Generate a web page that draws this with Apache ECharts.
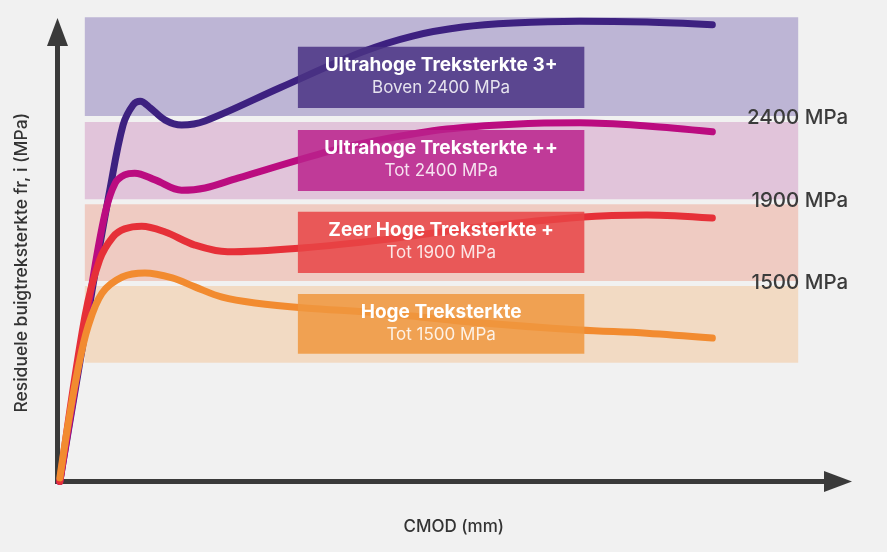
<!DOCTYPE html>
<html>
<head>
<meta charset="utf-8">
<script src="https://cdn.jsdelivr.net/npm/echarts@6/dist/echarts.min.js"></script>
<style>
html,body{margin:0;padding:0;background:#f1f1f1;}
#chart{width:887px;height:552px;}
</style>
</head>
<body>
<div id="chart"></div>
<script>
// ---- data (abstract chart units: x = CMOD, y = residual flexural strength) ----
const classNames = ['Ultrahoge Treksterkte 3+', 'Ultrahoge Treksterkte ++', 'Zeer Hoge Treksterkte +', 'Hoge Treksterkte'];
const classSubtitles = ['Boven 2400 MPa', 'Tot 2400 MPa', 'Tot 1900 MPa', 'Tot 1500 MPa'];
const thresholdLabels = ['2400 MPa', '1900 MPa', '1500 MPa'];
const thresholdLevels = [81.0, 62.4, 44.2];
// band ranges [low, high] per class
const bandRanges = [[81.3, 103.3], [62.8, 80.0], [44.6, 61.7], [26.4, 43.5]];
const bandX = [3.5, 94.9];

const curvePurple = [[0.3,0],[4.4,42.2],[6.7,64.8],[8.4,79.3],[9.7,83.8],[10.6,84.6],[11.9,83.1],[13.8,80.4],[15.9,79.3],[18.9,80.2],[28.5,87.6],[39.1,95.6],[45.5,99.1],[51.9,101.1],[58.4,102.0],[66.9,102.4],[75.5,102.2],[83.9,101.6]];
const curveMagenta = [[0.3,0],[4.4,43.7],[6.1,59.7],[7.4,66.4],[8.6,68.2],[9.9,68.6],[12.5,67.1],[15.9,64.8],[18.9,65.3],[23.1,67.5],[34.9,73.5],[41.3,76.0],[49.9,78.4],[58.4,79.5],[66.9,79.8],[75.5,79.1],[83.9,77.8]];
const curveRed = [[0.3,0],[3.5,36.6],[5.4,49.3],[7.1,54.4],[8.6,56.2],[10.8,56.8],[13.8,55.5],[17.6,52.6],[21.8,51.1],[31.7,52.0],[41.3,53.7],[54.1,56.6],[66.9,58.8],[75.5,59.3],[83.9,58.6]];
const curveOrange = [[0.3,0.8],[1.3,12.1],[2.6,24.8],[3.9,34.4],[5.7,41.9],[8.3,45.5],[11.2,46.4],[14.7,45.3],[17.6,43.3],[21.1,41.0],[25.3,39.7],[31.7,38.6],[41.3,37.5],[54.1,35.3],[66.9,33.7],[75.5,33.0],[83.9,31.9]];

// ---- styling ----
const FONT = 'Inter, "Noto Sans", "Open Sans", sans-serif';
const bandColors = ['#bdb5d5', '#e1c4da', '#efcbc2', '#f2dac3'];
const boxColors = ['#4a3384', '#ba228c', '#e74445', '#f0963e'];
const lineColors = ['#3d2180', '#bb0c80', '#e63038', '#f28b30'];
const boxRanges = [[83.1, 96.7], [64.6, 78.2], [46.4, 60.0], [28.4, 41.7]];
const boxX = [30.8, 67.5];

const chart = echarts.init(document.getElementById('chart'), null, {renderer: 'canvas'});

const bandData = bandRanges.map((r, i) => [bandX[0], bandX[1], r[0], r[1], i]);
const boxData = boxRanges.map((r, i) => [boxX[0], boxX[1], r[0], r[1], i]);
const labelData = thresholdLevels.map((v, i) => [101.3, v, i]);

function lineSeries(data, color, z) {
  return {
    type: 'line', data: data, smooth: 0.35,
    showSymbol: false, symbol: 'none', clip: false, silent: true, z: z,
    lineStyle: {color: color, width: 7, cap: 'round', join: 'round'}
  };
}

const option = {
  animation: false,
  backgroundColor: '#f1f1f1',
  grid: {left: 57.5, right: 49, top: 32, bottom: 70.5},
  xAxis: {
    type: 'value', min: 0, max: 100,
    name: 'CMOD (mm)', nameLocation: 'middle', nameGap: 37,
    nameTextStyle: {fontFamily: FONT, fontSize: 17, fontWeight: 500, color: '#333', padding: [0, 0, 0, 12]},
    axisLine: {show: true, symbol: ['none', 'triangle'], symbolSize: [21, 28],
      lineStyle: {color: '#3a3a3a', width: 5, cap: 'square'}},
    axisTick: {show: false}, axisLabel: {show: false}, splitLine: {show: false}
  },
  yAxis: {
    type: 'value', min: 0, max: 100,
    name: 'Residuele buigtreksterkte fr, i (MPa)', nameLocation: 'middle', nameGap: 27,
    nameTextStyle: {fontFamily: FONT, fontSize: 17.5, fontWeight: 500, color: '#333', padding: [0, 12, 0, 0]},
    axisLine: {show: true, symbol: ['none', 'triangle'], symbolSize: [21, 28],
      lineStyle: {color: '#3a3a3a', width: 5, cap: 'square'}},
    axisTick: {show: false}, axisLabel: {show: false}, splitLine: {show: false}
  },
  series: [
    {
      type: 'custom', silent: true, z: 1, clip: false, data: bandData,
      renderItem: function (params, api) {
        const p0 = api.coord([api.value(0), api.value(3)]);
        const p1 = api.coord([api.value(1), api.value(2)]);
        return {type: 'rect', shape: {x: p0[0], y: p0[1], width: p1[0] - p0[0], height: p1[1] - p0[1]},
          style: {fill: bandColors[api.value(4)]}};
      }
    },
    lineSeries(curvePurple, lineColors[0], 2),
    lineSeries(curveMagenta, lineColors[1], 2),
    lineSeries(curveRed, lineColors[2], 2),
    lineSeries(curveOrange, lineColors[3], 2),
    {
      type: 'custom', silent: true, z: 5, clip: false, data: boxData,
      renderItem: function (params, api) {
        const i = api.value(4);
        const p0 = api.coord([api.value(0), api.value(3)]);
        const p1 = api.coord([api.value(1), api.value(2)]);
        const cx = (p0[0] + p1[0]) / 2, cy = (p0[1] + p1[1]) / 2;
        return {type: 'group', children: [
          {type: 'rect', shape: {x: p0[0], y: p0[1], width: p1[0] - p0[0], height: p1[1] - p0[1]},
            style: {fill: boxColors[i], opacity: 0.85}},
          {type: 'text', x: cx, y: cy - 12, style: {text: classNames[i], fill: '#ffffff',
            fontFamily: FONT, fontSize: 19, fontWeight: 700, align: 'center', verticalAlign: 'middle'}},
          {type: 'text', x: cx, y: cy + 10.5, style: {text: classSubtitles[i], fill: 'rgba(255,255,255,0.85)',
            fontFamily: FONT, fontSize: 17, fontWeight: 400, align: 'center', verticalAlign: 'middle'}}
        ]};
      }
    },
    {
      type: 'custom', silent: true, z: 5, clip: false, data: labelData,
      renderItem: function (params, api) {
        const p = api.coord([api.value(0), api.value(1)]);
        return {type: 'text', x: p[0], y: p[1], style: {text: thresholdLabels[api.value(2)], fill: '#3b3b3b',
          fontFamily: FONT, fontSize: 20.5, fontWeight: 500, align: 'right', verticalAlign: 'middle'}};
      }
    }
  ]
};
chart.setOption(option);
</script>
</body>
</html>
